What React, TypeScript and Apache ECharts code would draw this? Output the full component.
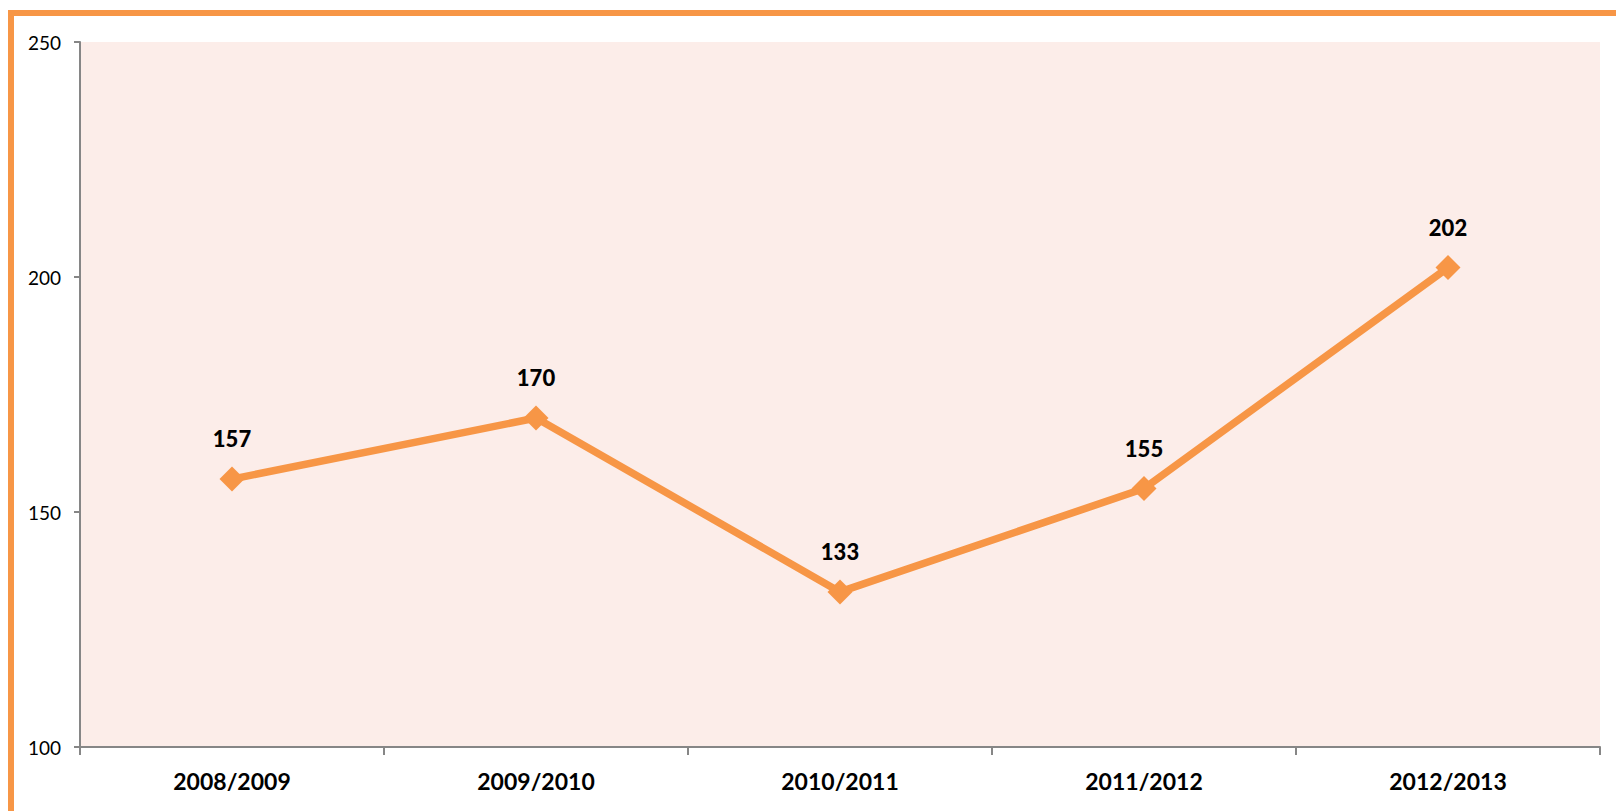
import React, { useEffect, useRef } from "react";
import * as echarts from "echarts";

const categories = ["2008/2009", "2009/2010", "2010/2011", "2011/2012", "2012/2013"];
const values = [157, 170, 133, 155, 202];
const yTicks = { min: 100, max: 250, interval: 50 };

const ORANGE = "#F79646";

export default function App() {
  const ref = useRef<HTMLDivElement>(null);

  useEffect(() => {
    if (!ref.current) return;
    const chart = echarts.init(ref.current, undefined, { renderer: "svg" });
    chart.setOption({
      animation: false,
      backgroundColor: "transparent",
      grid: {
        left: 80,
        top: 42,
        right: 16,
        bottom: 64,
        show: true,
        backgroundColor: "#FCEDE9",
        borderWidth: 0,
        containLabel: false,
      },
      xAxis: {
        type: "category",
        data: categories,
        boundaryGap: true,
        axisLine: { show: true, lineStyle: { color: "#868686", width: 2 } },
        axisTick: { show: true, length: 8, lineStyle: { color: "#868686", width: 2 } },
        axisLabel: {
          margin: 22,
          color: "#000",
          fontFamily: "Lato",
          fontWeight: "bold",
          fontSize: 23,
        },
        splitLine: { show: false },
      },
      yAxis: {
        type: "value",
        min: yTicks.min,
        max: yTicks.max,
        interval: yTicks.interval,
        axisLine: { show: true, lineStyle: { color: "#868686", width: 2 } },
        axisTick: { show: true, length: 6, lineStyle: { color: "#868686", width: 2 } },
        axisLabel: {
          margin: 19,
          color: "#000",
          fontFamily: "Lato",
          fontSize: 19,
        },
        splitLine: { show: false },
      },
      series: [
        {
          type: "line",
          data: values,
          symbol: "diamond",
          symbolSize: 25,
          lineStyle: { color: ORANGE, width: 7.5 },
          itemStyle: { color: ORANGE },
          label: {
            show: true,
            position: "top",
            distance: 17,
            color: "#000",
            fontFamily: "Lato",
            fontWeight: 900,
            fontSize: 22,
          },
        },
      ],
    });
    return () => chart.dispose();
  }, []);

  return (
    <div
      style={{
        position: "fixed",
        left: 0,
        top: 0,
        width: 1616,
        height: 811,
        overflow: "hidden",
        background: "#fff",
      }}
    >
      <div
        style={{
          position: "absolute",
          left: 8,
          top: 10,
          width: 1800,
          height: 1000,
          border: `6px solid ${ORANGE}`,
          boxSizing: "border-box",
        }}
      />
      <div
        ref={ref}
        style={{ position: "absolute", left: 0, top: 0, width: 1616, height: 811 }}
      />
    </div>
  );
}
